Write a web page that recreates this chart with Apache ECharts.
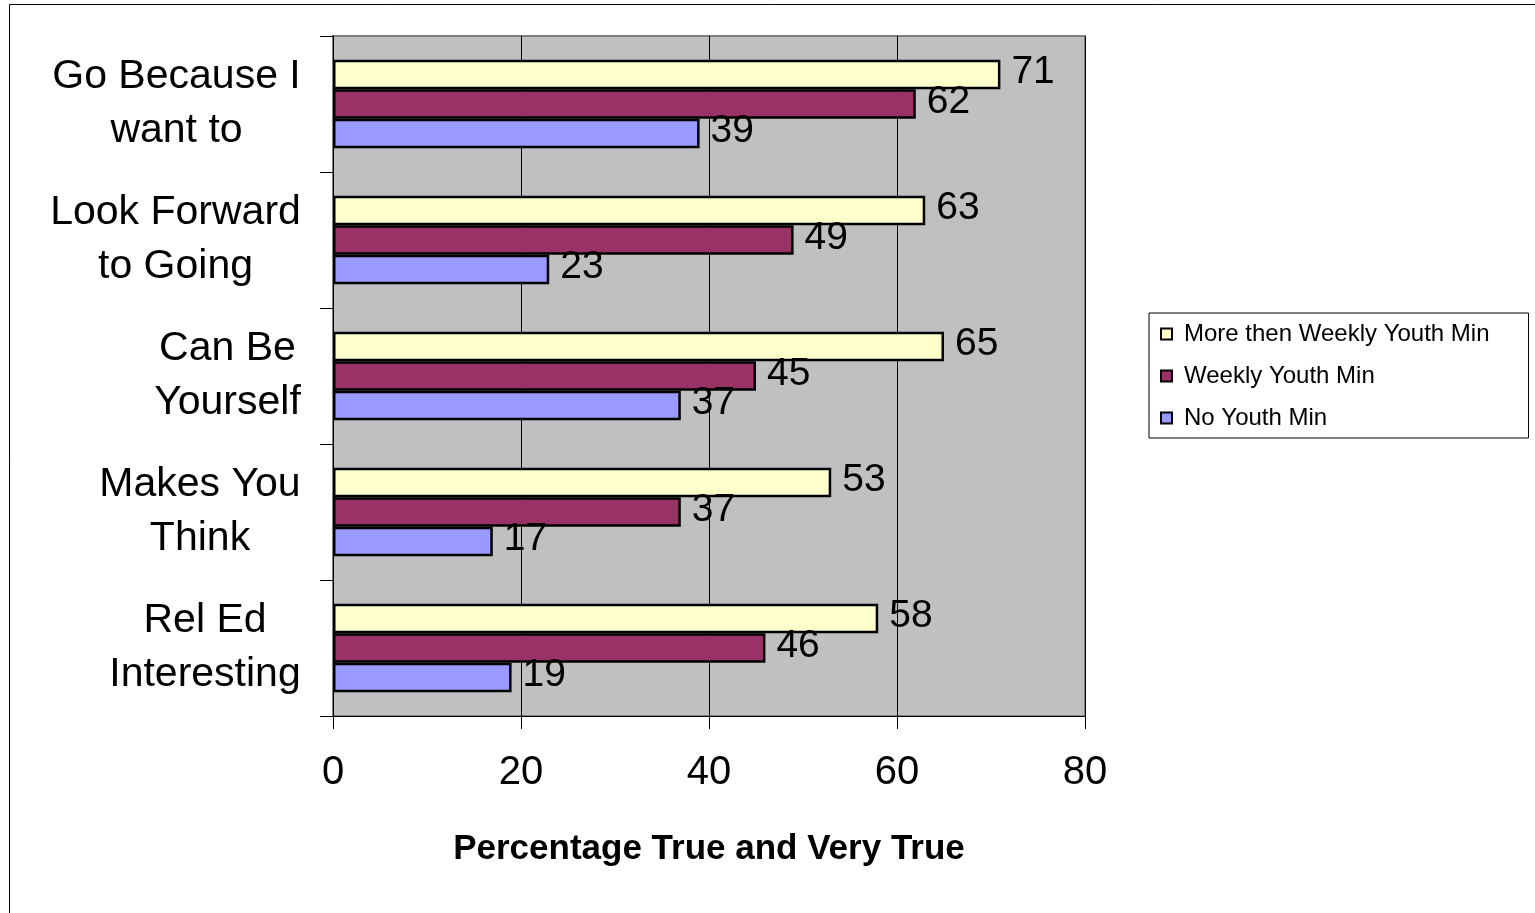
<!DOCTYPE html>
<html>
<head>
<meta charset="utf-8">
<script src="https://cdn.jsdelivr.net/npm/echarts@6/dist/echarts.min.js"></script>
<style>
  html, body { margin: 0; padding: 0; background: #fff; }
  #chart { width: 1535px; height: 913px; }
</style>
</head>
<body>
<div id="chart"></div>
<script>
// categories, top to bottom (two lines each, as in the original)
const categories = [
  ['Go Because I', 'want to'],
  ['Look Forward', 'to Going'],
  ['Can Be', 'Yourself'],
  ['Makes You', 'Think'],
  ['Rel Ed', 'Interesting']
]
const seriesNames = ['More then Weekly Youth Min', 'Weekly Youth Min', 'No Youth Min']
const moreThenWeekly = [71, 63, 65, 53, 58]
const weekly = [62, 49, 45, 37, 46]
const noYouthMin = [39, 23, 37, 17, 19]
const xTicks = { min: 0, max: 80, interval: 20 }
const axisTitle = 'Percentage True and Very True'

const FONT = '"Liberation Sans", Arial, sans-serif'
const colors = ['#FFFFCC', '#993366', '#9999FF']
const CAT_SIZE = 41

// measure each label's widest line so the lines can be centred inside a right-aligned block
const ctx = document.createElement('canvas').getContext('2d')
ctx.font = CAT_SIZE + 'px "Liberation Sans"'
const rich = {}
categories.forEach((lines, i) => {
  const w = Math.ceil(Math.max(...lines.map(l => ctx.measureText(l).width)))
  rich['c' + i] = { width: w, align: 'center', fontSize: CAT_SIZE, lineHeight: 54, fontFamily: FONT, color: '#000' }
})
const catKeys = categories.map((_, i) => String(i))

const chart = echarts.init(document.getElementById('chart'))

const values = [moreThenWeekly, weekly, noYouthMin]

chart.setOption({
  animation: false,
  textStyle: { fontFamily: FONT },
  graphic: [{
    type: 'rect',
    shape: { x: 9.5, y: 4.5, width: 2000, height: 2000 },
    style: { fill: 'none', stroke: '#000', lineWidth: 1 },
    silent: true
  }],
  grid: {
    left: 333, top: 36, right: 450, bottom: 197,
    show: true,
    backgroundColor: '#C0C0C0',
    borderColor: '#808080',
    borderWidth: 2
  },
  legend: {
    orient: 'vertical',
    left: 1149,
    top: 313,
    data: seriesNames,
    icon: 'rect',
    itemWidth: 11,
    itemHeight: 11,
    itemGap: 18,
    padding: [9, 39, 8, 11],
    backgroundColor: '#fff',
    borderColor: '#000',
    borderWidth: 1,
    textStyle: { fontSize: 24, color: '#000', fontFamily: FONT, padding: [0, 0, 0, 7] }
  },
  xAxis: {
    type: 'value',
    min: xTicks.min,
    max: xTicks.max,
    interval: xTicks.interval,
    name: axisTitle,
    nameLocation: 'middle',
    nameGap: 116,
    nameTextStyle: { fontSize: 35, fontWeight: 'bold', color: '#000', fontFamily: FONT },
    axisLine: { show: true, lineStyle: { color: '#000', width: 1 } },
    axisTick: { show: true, length: 13, lineStyle: { color: '#000' } },
    axisLabel: { fontSize: 40, color: '#000', margin: 37, fontFamily: FONT },
    splitLine: { show: true, lineStyle: { color: '#000', width: 1 } }
  },
  yAxis: {
    type: 'category',
    inverse: true,
    data: catKeys,
    axisLine: { show: true, lineStyle: { color: '#000', width: 1 } },
    axisTick: { show: true, length: 13, lineStyle: { color: '#000' } },
    axisLabel: {
      margin: 32,
      formatter: (v) => {
        const i = Number(v)
        return categories[i].map(l => `{c${i}|${l}}`).join('\n')
      },
      rich
    }
  },
  series: seriesNames.map((name, k) => ({
    name,
    type: 'bar',
    data: values[k],
    barGap: '0%',
    barCategoryGap: '35%',
    itemStyle: { color: colors[k], borderColor: '#000', borderWidth: 2.5 },
    label: {
      show: true,
      position: 'right',
      distance: 11,
      offset: [0, -2],
      fontSize: 39,
      color: '#000',
      fontFamily: FONT
    }
  }))
})

window.addEventListener('resize', () => chart.resize())
</script>
</body>
</html>
